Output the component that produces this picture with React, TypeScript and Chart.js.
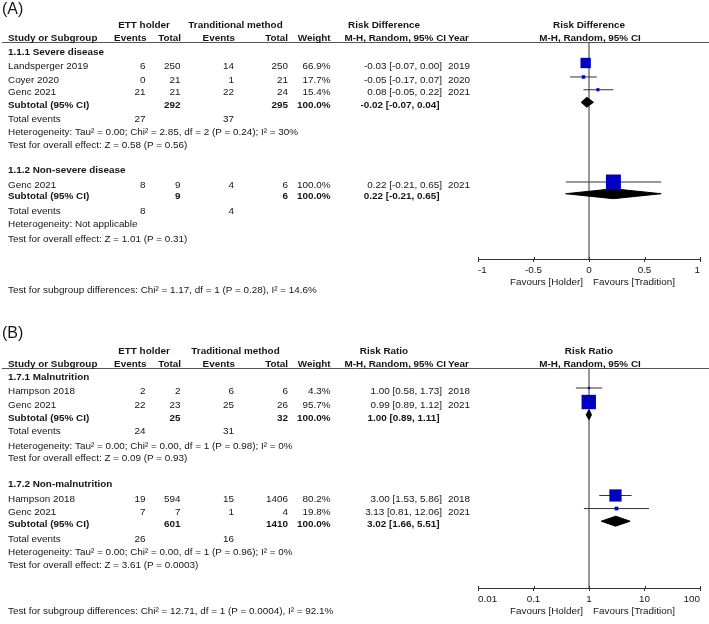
import React, { useEffect, useRef } from "react";
import { Chart, registerables } from "chart.js";

Chart.register(...registerables);

// ---------------- Panel A data (Risk Difference) ----------------
const groupsA = ["1.1.1 Severe disease", "1.1.2 Non-severe disease"];
const studiesA = ["Landsperger 2019", "Coyer 2020", "Genc 2021", "Genc 2021"];
const studyGroupA = [0, 0, 0, 1];
const ettEventsA = [6, 0, 21, 8];
const ettTotalA = [250, 21, 21, 9];
const tradEventsA = [14, 1, 22, 4];
const tradTotalA = [250, 21, 24, 6];
const weightA = [66.9, 17.7, 15.4, 100.0];
const estA = [-0.03, -0.05, 0.08, 0.22];
const lowA = [-0.07, -0.17, -0.05, -0.21];
const highA = [0.0, 0.07, 0.22, 0.65];
const yearA = ["2019", "2020", "2021", "2021"];
const subEttTotalA = [292, 9];
const subTradTotalA = [295, 6];
const subWeightA = [100.0, 100.0];
const subEstA = [-0.02, 0.22];
const subLowA = [-0.07, -0.21];
const subHighA = [0.04, 0.65];
const totEttA = [27, 8];
const totTradA = [37, 4];
const hetA = [
  "Heterogeneity: Tau² = 0.00; Chi² = 2.85, df = 2 (P = 0.24); I² = 30%",
  "Heterogeneity: Not applicable",
];
const overallA = [
  "Test for overall effect: Z = 0.58 (P = 0.56)",
  "Test for overall effect: Z = 1.01 (P = 0.31)",
];
const diffA = "Test for subgroup differences: Chi² = 1.17, df = 1 (P = 0.28), I² = 14.6%";
const tickValuesA = [-1, -0.5, 0, 0.5, 1];
const tickLabelsA = ["-1", "-0.5", "0", "0.5", "1"];

// ---------------- Panel B data (Risk Ratio) ----------------
const groupsB = ["1.7.1 Malnutrition", "1.7.2 Non-malnutrition"];
const studiesB = ["Hampson 2018", "Genc 2021", "Hampson 2018", "Genc 2021"];
const studyGroupB = [0, 0, 1, 1];
const ettEventsB = [2, 22, 19, 7];
const ettTotalB = [2, 23, 594, 7];
const tradEventsB = [6, 25, 15, 1];
const tradTotalB = [6, 26, 1406, 4];
const weightB = [4.3, 95.7, 80.2, 19.8];
const estB = [1.0, 0.99, 3.0, 3.13];
const lowB = [0.58, 0.89, 1.53, 0.81];
const highB = [1.73, 1.12, 5.86, 12.06];
const yearB = ["2018", "2021", "2018", "2021"];
const subEttTotalB = [25, 601];
const subTradTotalB = [32, 1410];
const subWeightB = [100.0, 100.0];
const subEstB = [1.0, 3.02];
const subLowB = [0.89, 1.66];
const subHighB = [1.11, 5.51];
const totEttB = [24, 26];
const totTradB = [31, 16];
const hetB = [
  "Heterogeneity: Tau² = 0.00; Chi² = 0.00, df = 1 (P = 0.98); I² = 0%",
  "Heterogeneity: Tau² = 0.00; Chi² = 0.00, df = 1 (P = 0.96); I² = 0%",
];
const overallB = [
  "Test for overall effect: Z = 0.09 (P = 0.93)",
  "Test for overall effect: Z = 3.61 (P = 0.0003)",
];
const diffB = "Test for subgroup differences: Chi² = 12.71, df = 1 (P = 0.0004), I² = 92.1%";
const tickValuesB = [0.01, 0.1, 1, 10, 100];
const tickLabelsB = ["0.01", "0.1", "1", "10", "100"];

// ---------------- layout / style ----------------
const W = 709;
const H = 312;
const AXIS_H = 30;
const FONT = '"Liberation Sans", Arial, Helvetica, sans-serif';
const FS = 9.9;
const TEXT = "#151515";
const COL = {
  study: 8,
  ettEv: 145.5,
  ettTot: 180.5,
  tradEv: 234,
  tradTot: 288,
  weight: 330.5,
  ci: 442,
  ciBold: 439.5,
  year: 448,
  ettHead: 144,
  tradHead: 235.5,
  statHead: 384,
  evHead: 146.5,
  totHead: 181,
  tradEvHead: 235,
  tradTotHead: 288,
  weightHead: 330.5,
  mhHead: 446,
};

type Layout = {
  top: number; bottom: number; left: number; right: number;
  base: number; unit: number; textOff: number;
  head1: number; head2: number; letterY: number;
  groupRow: number[]; studyRow: number[]; subtotalRow: number[];
  totalRow: number[]; hetRow: number[]; testRow: number[]; diffRow: number;
};

const layoutA: Layout = {
  top: 42, bottom: 259, left: 478, right: 700,
  base: 49, unit: 13.45, textOff: 3,
  head1: 25.5, head2: 38.5, letterY: 10,
  groupRow: [0, 8.83], studyRow: [1.04, 2.08, 3.03, 9.89], subtotalRow: [3.96, 10.76],
  totalRow: [5, 11.87], hetRow: [6, 12.82], testRow: [6.97, 13.93], diffRow: 17.75,
};
const layoutB: Layout = {
  top: 56, bottom: 276, left: 478, right: 700,
  base: 61.5, unit: 13.45, textOff: 3.5,
  head1: 39, head2: 52, letterY: 21.3,
  groupRow: [0, 8.0], studyRow: [1.08, 2.12, 9.07, 10.04], subtotalRow: [3.07, 10.98],
  totalRow: [4.07, 12.08], hetRow: [5.12, 13.05], testRow: [6.05, 13.98], diffRow: 17.45,
};

type Panel = {
  letter: string; headEtt: string; headTrad: string; headStat: string;
  groups: string[]; studies: string[]; studyGroup: number[];
  ettEvents: number[]; ettTotal: number[]; tradEvents: number[]; tradTotal: number[];
  weight: number[]; est: number[]; low: number[]; high: number[]; year: string[];
  subEttTotal: number[]; subTradTotal: number[]; subWeight: number[];
  subEst: number[]; subLow: number[]; subHigh: number[];
  totEtt: number[]; totTrad: number[]; het: string[]; overall: string[]; diff: string;
  tickValues: number[]; tickLabels: string[]; log: boolean; nullValue: number;
  min: number; max: number; layout: Layout;
};

const panelA: Panel = {
  letter: "(A)", headEtt: "ETT holder", headTrad: "Tranditional method", headStat: "Risk Difference",
  groups: groupsA, studies: studiesA, studyGroup: studyGroupA,
  ettEvents: ettEventsA, ettTotal: ettTotalA, tradEvents: tradEventsA, tradTotal: tradTotalA,
  weight: weightA, est: estA, low: lowA, high: highA, year: yearA,
  subEttTotal: subEttTotalA, subTradTotal: subTradTotalA, subWeight: subWeightA,
  subEst: subEstA, subLow: subLowA, subHigh: subHighA,
  totEtt: totEttA, totTrad: totTradA, het: hetA, overall: overallA, diff: diffA,
  tickValues: tickValuesA, tickLabels: tickLabelsA, log: false, nullValue: 0,
  min: -1, max: 1, layout: layoutA,
};
const panelB: Panel = {
  letter: "(B)", headEtt: "ETT holder", headTrad: "Traditional method", headStat: "Risk Ratio",
  groups: groupsB, studies: studiesB, studyGroup: studyGroupB,
  ettEvents: ettEventsB, ettTotal: ettTotalB, tradEvents: tradEventsB, tradTotal: tradTotalB,
  weight: weightB, est: estB, low: lowB, high: highB, year: yearB,
  subEttTotal: subEttTotalB, subTradTotal: subTradTotalB, subWeight: subWeightB,
  subEst: subEstB, subLow: subLowB, subHigh: subHighB,
  totEtt: totEttB, totTrad: totTradB, het: hetB, overall: overallB, diff: diffB,
  tickValues: tickValuesB, tickLabels: tickLabelsB, log: true, nullValue: 1,
  min: 0.01, max: 100, layout: layoutB,
};

const f2 = (v: number) => v.toFixed(2);
const ciText = (e: number, l: number, h: number) => `${f2(e)} [${f2(l)}, ${f2(h)}]`;

function put(ctx: CanvasRenderingContext2D, s: string, x: number, y: number,
  align: CanvasTextAlign, bold = false, size = FS) {
  ctx.font = `${bold ? "bold " : ""}${size}px ${FONT}`;
  ctx.textAlign = align;
  ctx.textBaseline = "middle";
  ctx.fillStyle = TEXT;
  ctx.fillText(s, x, y);
}

function makePlugin(p: Panel) {
  const L = p.layout;
  return {
    id: "forestTable",
    beforeDatasetsDraw(chart: any) {
      const { ctx, chartArea: ca } = chart;
      const x0 = chart.scales.x.getPixelForValue(p.nullValue);
      ctx.save();
      ctx.strokeStyle = "#6a6a6a";
      ctx.lineWidth = 1.4;
      ctx.beginPath();
      ctx.moveTo(x0, ca.top);
      ctx.lineTo(x0, ca.bottom);
      ctx.stroke();
      ctx.restore();
    },
    afterDraw(chart: any) {
      const { ctx, chartArea: ca } = chart;
      const xs = chart.scales.x;
      const ys = chart.scales.y;
      const ty = (r: number) => ys.getPixelForValue(r) + L.textOff;
      const x0 = xs.getPixelForValue(p.nullValue);
      ctx.save();

      // header underline
      ctx.strokeStyle = "#555";
      ctx.lineWidth = 1;
      ctx.beginPath();
      ctx.moveTo(2, ca.top + 0.5);
      ctx.lineTo(W, ca.top + 0.5);
      ctx.stroke();

      // ticks crossing axis upward
      ctx.strokeStyle = "#333";
      p.tickValues.forEach((v) => {
        const px = Math.round(xs.getPixelForValue(v)) + 0.5;
        ctx.beginPath();
        ctx.moveTo(px, ca.bottom - 2);
        ctx.lineTo(px, ca.bottom);
        ctx.stroke();
      });

      put(ctx, p.letter, 2, L.letterY, "left", false, 16);

      // headers
      put(ctx, p.headEtt, COL.ettHead, L.head1, "center", true);
      put(ctx, p.headTrad, COL.tradHead, L.head1, "center", true);
      put(ctx, p.headStat, COL.statHead, L.head1, "center", true);
      put(ctx, p.headStat, x0, L.head1, "center", true);
      put(ctx, "Study or Subgroup", COL.study, L.head2, "left", true);
      put(ctx, "Events", COL.evHead, L.head2, "right", true);
      put(ctx, "Total", COL.totHead, L.head2, "right", true);
      put(ctx, "Events", COL.tradEvHead, L.head2, "right", true);
      put(ctx, "Total", COL.tradTotHead, L.head2, "right", true);
      put(ctx, "Weight", COL.weightHead, L.head2, "right", true);
      put(ctx, "M-H, Random, 95% CI", COL.mhHead, L.head2, "right", true);
      put(ctx, "Year", COL.year, L.head2, "left", true);
      put(ctx, "M-H, Random, 95% CI", x0 + 1, L.head2, "center", true);

      // groups
      p.groups.forEach((g, gi) => {
        put(ctx, g, COL.study, ty(L.groupRow[gi]), "left", true);
        const st = ty(L.subtotalRow[gi]);
        put(ctx, "Subtotal (95% CI)", COL.study, st, "left", true);
        put(ctx, String(p.subEttTotal[gi]), COL.ettTot, st, "right", true);
        put(ctx, String(p.subTradTotal[gi]), COL.tradTot, st, "right", true);
        put(ctx, p.subWeight[gi].toFixed(1) + "%", COL.weight, st, "right", true);
        put(ctx, ciText(p.subEst[gi], p.subLow[gi], p.subHigh[gi]), COL.ciBold, st, "right", true);
        const tt = ty(L.totalRow[gi]);
        put(ctx, "Total events", COL.study, tt, "left");
        put(ctx, String(p.totEtt[gi]), COL.ettEv, tt, "right");
        put(ctx, String(p.totTrad[gi]), COL.tradEv, tt, "right");
        put(ctx, p.het[gi], COL.study, ty(L.hetRow[gi]), "left");
        put(ctx, p.overall[gi], COL.study, ty(L.testRow[gi]), "left");
      });

      // studies
      p.studies.forEach((s, i) => {
        const y = ty(L.studyRow[i]);
        put(ctx, s, COL.study, y, "left");
        put(ctx, String(p.ettEvents[i]), COL.ettEv, y, "right");
        put(ctx, String(p.ettTotal[i]), COL.ettTot, y, "right");
        put(ctx, String(p.tradEvents[i]), COL.tradEv, y, "right");
        put(ctx, String(p.tradTotal[i]), COL.tradTot, y, "right");
        put(ctx, p.weight[i].toFixed(1) + "%", COL.weight, y, "right");
        put(ctx, ciText(p.est[i], p.low[i], p.high[i]), COL.ci, y, "right");
        put(ctx, p.year[i], COL.year, y, "left");
      });

      put(ctx, p.diff, COL.study, ty(L.diffRow), "left");

      // favours labels
      put(ctx, "Favours [Holder]", x0 - 6, ca.bottom + 23, "right");
      put(ctx, "Favours [Tradition]", x0 + 4, ca.bottom + 23, "left");

      ctx.restore();
    },
  };
}

function buildConfig(p: Panel): any {
  const L = p.layout;
  const yMin = (L.top - L.base) / L.unit;
  const yMax = (L.bottom - L.base) / L.unit;
  const DH = 0.37; // diamond half height in row units

  const squares = {
    type: "scatter",
    data: p.est.map((e, i) => ({ x: e, y: L.studyRow[i] })),
    pointStyle: "rect",
    pointRadius: p.weight.map((w) => Math.max(2.3, 1 + w * 0.14) / Math.SQRT2),
    backgroundColor: "#0000c0",
    borderColor: "#0000c0",
    borderWidth: 0,
    order: 0,
  };
  const ciLines = p.est.map((_, i) => ({
    type: "line",
    data: [
      { x: p.low[i], y: L.studyRow[i] },
      { x: p.high[i], y: L.studyRow[i] },
    ],
    borderColor: "#333",
    borderWidth: 1,
    pointRadius: 0,
    fill: false,
    order: 2,
  }));
  const diamonds = p.subEst.map((e, g) => {
    const r = L.subtotalRow[g];
    return {
      type: "line",
      data: [
        { x: p.subLow[g], y: r },
        { x: e, y: r - DH },
        { x: p.subHigh[g], y: r },
        { x: e, y: r + DH },
        { x: p.subLow[g], y: r },
      ],
      borderColor: "#000",
      backgroundColor: "#000",
      borderWidth: 1,
      pointRadius: 0,
      tension: 0,
      fill: "shape",
      order: 1,
    };
  });

  return {
    type: "scatter",
    data: { datasets: [squares, ...diamonds, ...ciLines] },
    options: {
      responsive: false,
      animation: false,
      devicePixelRatio: 1,
      events: [],
      layout: {
        autoPadding: false,
        padding: {
          left: L.left,
          right: W - L.right,
          top: L.top,
          bottom: H - L.bottom - AXIS_H,
        },
      },
      plugins: { legend: { display: false }, tooltip: { enabled: false } },
      scales: {
        x: {
          type: p.log ? "logarithmic" : "linear",
          position: "bottom",
          min: p.min,
          max: p.max,
          afterBuildTicks: (s: any) => {
            s.ticks = p.tickValues.map((v) => ({ value: v }));
          },
          afterFit: (s: any) => {
            s.height = AXIS_H;
          },
          ticks: {
            align: "inner",
            autoSkip: false,
            maxRotation: 0,
            padding: 2,
            color: TEXT,
            font: { family: FONT, size: FS },
            callback: (_v: any, i: number) => p.tickLabels[i],
          },
          grid: {
            drawOnChartArea: false,
            drawTicks: true,
            tickLength: 3,
            color: "#333",
            lineWidth: 1,
          },
          border: { display: true, color: "#333", width: 1 },
        },
        y: {
          type: "linear",
          display: false,
          reverse: true,
          min: yMin,
          max: yMax,
        },
      },
    },
    plugins: [makePlugin(p)],
  };
}

function ForestPanel({ p, top }: { p: Panel; top: number }) {
  const ref = useRef<HTMLCanvasElement>(null);
  useEffect(() => {
    const chart = new Chart(ref.current as HTMLCanvasElement, buildConfig(p));
    return () => chart.destroy();
  }, [p]);
  return (
    <canvas
      ref={ref}
      width={W}
      height={H}
      style={{ position: "absolute", left: 0, top, width: W, height: H, display: "block" }}
    />
  );
}

export default function App() {
  return (
    <div style={{ position: "absolute", left: 0, top: 0, width: W, height: 2 * H, background: "#fff" }}>
      <ForestPanel p={panelA} top={0} />
      <ForestPanel p={panelB} top={H} />
    </div>
  );
}
